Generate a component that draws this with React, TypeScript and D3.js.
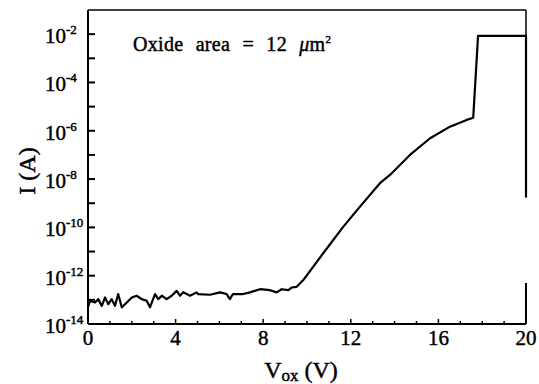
import React from 'react';
import * as d3 from 'd3';

// oxide voltage (V) and log10 of the current (A)
const voltage = [
  0, 0.09, 0.32, 0.47, 0.63, 0.78, 0.93, 1.08, 1.23, 1.38, 1.54, 1.77, 2.0, 2.22, 2.45, 2.68, 2.83,
  3.06, 3.21, 3.37, 3.59, 3.82, 4.05, 4.2, 4.35, 4.66, 4.96, 5.02, 5.57, 6.03, 6.33, 6.48, 6.62,
  7.08, 7.4, 7.85, 8.31, 8.62, 8.84, 9.15, 9.3, 9.53, 9.83, 10.74, 11.66, 12.42, 13.33, 13.79,
  14.7, 15.62, 16.53, 17.29, 17.59, 17.81, 20, 20,
];
const logCurrent = [
  -13.3, -13.04, -13.11, -12.97, -13.25, -12.9, -13.18, -12.97, -13.25, -12.76, -13.31, -13.11,
  -12.9, -12.83, -12.97, -13.04, -13.31, -12.76, -12.97, -12.83, -12.97, -12.83, -12.63, -12.83,
  -12.69, -12.83, -12.69, -12.76, -12.79, -12.69, -12.76, -12.97, -12.76, -12.76, -12.69, -12.56,
  -12.6, -12.69, -12.56, -12.6, -12.49, -12.46, -12.18, -11.07, -9.97, -9.14, -8.17, -7.83,
  -7.0, -6.31, -5.83, -5.55, -5.46, -2.07, -2.07, -8.76,
];

const xTickLabels = [0, 4, 8, 12, 16, 20];
const yDecades = [-14, -13, -12, -11, -10, -9, -8, -7, -6, -5, -4, -3, -2];
const yLabelDecades = [-14, -12, -10, -8, -6, -4, -2];

const width = 539;
const height = 384;
const left = 88;
const right = 526;
const top = 10;
const bottom = 324;
const font = '"Liberation Serif", "DejaVu Serif", serif';

export default function App() {
  const x = d3.scaleLinear().domain([0, 20]).range([left, right]);
  const y = d3.scaleLog().domain([1e-14, 1e-1]).range([bottom, top]);

  const points: [number, number][] = voltage.map((v, i) => [v, Math.pow(10, logCurrent[i])]);
  const line = d3
    .line<[number, number]>()
    .x((d) => x(d[0]))
    .y((d) => y(d[1]));

  const minorX = d3.range(0, 21, 1);
  const heavy = { stroke: '#000', strokeWidth: 0.45 };

  return (
    <svg
      width={width}
      height={height}
      style={{ position: 'absolute', left: 0, top: 0, background: '#fff' }}
      fontFamily={font}
    >
      {/* frame */}
      <g stroke="#000" strokeWidth={2} fill="none">
        <line x1={left} x2={left} y1={top} y2={bottom} />
        <line x1={left} x2={right} y1={bottom} y2={bottom} />
        <line x1={left} x2={right} y1={top} y2={top} strokeWidth={1.5} />
        <line x1={right} x2={right} y1={top} y2={y(Math.pow(10, -2.07))} strokeWidth={1.5} />
        <line x1={right} x2={right} y1={y(Math.pow(10, -12.3))} y2={bottom} />
      </g>

      {/* y ticks */}
      {yDecades.map((d) => (
        <line key={d} x1={left} x2={left + 7} y1={y(Math.pow(10, d))} y2={y(Math.pow(10, d))} stroke="#000" strokeWidth={2} />
      ))}
      {yLabelDecades.map((d) => (
        <text key={d} x={45} y={y(Math.pow(10, d)) + 9} fontSize={21} fill="#000" {...heavy}>
          10
          <tspan fontSize={13} dy={-9}>{String(d)}</tspan>
        </text>
      ))}

      {/* x ticks */}
      {minorX.map((v) => (
        <line
          key={v}
          x1={x(v)}
          x2={x(v)}
          y1={bottom}
          y2={bottom - (v % 4 === 0 ? 5 : 3)}
          stroke="#000"
          strokeWidth={1.5}
        />
      ))}
      {xTickLabels.map((v) => (
        <text key={v} x={x(v)} y={bottom + 21} fontSize={21} textAnchor="middle" fill="#000" {...heavy}>
          {v}
        </text>
      ))}

      {/* curve */}
      <path d={line(points) || ''} fill="none" stroke="#000" strokeWidth={2.2} strokeLinejoin="round" />

      {/* labels */}
      <text x={301} y={378} fontSize={24} textAnchor="middle" fill="#000" {...heavy}>
        V<tspan fontSize={17} dy={3}>ox</tspan>
        <tspan dy={-3}> (V)</tspan>
      </text>
      <text transform="translate(35,171) rotate(-90)" fontSize={24} textAnchor="middle" fill="#000" {...heavy}>
        I (A)
      </text>
      <text x={133} y={51} fontSize={20} wordSpacing={7} letterSpacing={0.3} fill="#000" {...heavy}>
        Oxide area = 12 <tspan fontStyle="italic">μ</tspan>m
        <tspan fontSize={11} dy={-8}>2</tspan>
      </text>
    </svg>
  );
}
